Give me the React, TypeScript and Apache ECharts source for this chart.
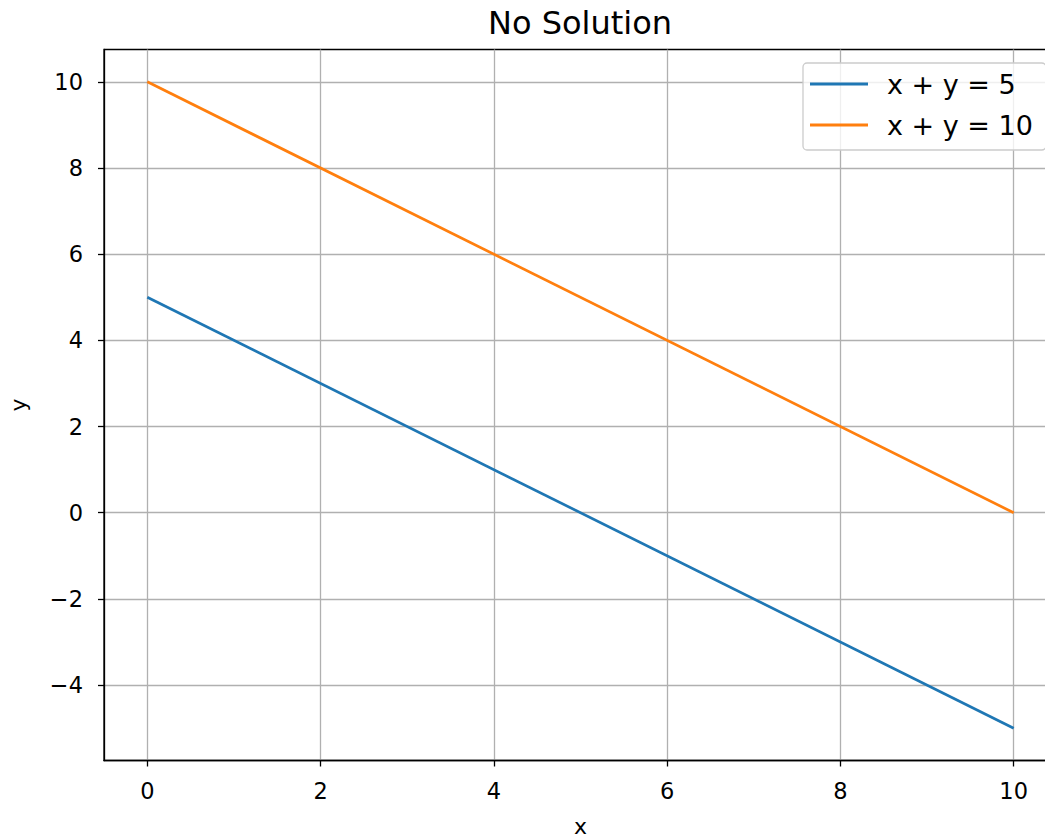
import React, { useEffect, useRef } from "react";
import * as echarts from "echarts";

const xPoints = [0, 10];
const line5 = [5, -5];
const line10 = [10, 0];
const seriesNames = ["x + y = 5", "x + y = 10"];
const xTicks = [0, 2, 4, 6, 8, 10];
const yTicks = [-4, -2, 0, 2, 4, 6, 8, 10];

const FONT = "DejaVu Sans";

export default function App() {
  const ref = useRef<HTMLDivElement>(null);
  useEffect(() => {
    if (!ref.current) return;
    const chart = echarts.init(ref.current, null, { renderer: "svg" });
    const axisCommon = {
      type: "value",
      axisLine: { show: true, onZero: false, lineStyle: { color: "#000", width: 1.3 } },
      axisTick: { show: true, inside: false, length: 6, lineStyle: { color: "#000", width: 1.3 } },
      splitLine: { show: true, lineStyle: { color: "#b0b0b0", width: 1.3 } },
      nameTextStyle: { fontFamily: FONT, fontSize: 22, color: "#000", lineHeight: 22 },
    };
    chart.setOption({
      animation: false,
      backgroundColor: "#fff",
      title: {
        text: "No Solution",
        left: 575,
        textAlign: "center",
        top: 2,
        textStyle: { fontFamily: FONT, fontSize: 32, fontWeight: "normal", color: "#000" },
      },
      grid: {
        left: 104,
        top: 49.5,
        width: 953,
        height: 711,
        show: true,
        borderColor: "#000",
        borderWidth: 1.3,
        containLabel: false,
        outerBoundsMode: "none",
      },
      legend: {
        orient: "vertical",
        left: 803,
        top: 63,
        padding: [6, 13, 10, 7],
        itemWidth: 58,
        itemHeight: 3,
        itemGap: 11,
        icon: "rect",
        backgroundColor: "rgba(255,255,255,0.8)",
        borderColor: "#cccccc",
        borderWidth: 1.3,
        borderRadius: 4,
        textStyle: { fontFamily: FONT, fontSize: 27, color: "#000", lineHeight: 30, padding: [0, 0, 0, 14] },
        data: seriesNames,
      },
      xAxis: {
        ...axisCommon,
        min: -0.5,
        max: 10.5,
        name: "x",
        nameLocation: "middle",
        nameGap: 55,
        axisTick: { ...axisCommon.axisTick, customValues: xTicks },
        axisLabel: {
          customValues: xTicks,
          fontFamily: FONT,
          fontSize: 22.5,
          color: "#000",
          margin: 19,
        },
      },
      yAxis: {
        ...axisCommon,
        min: -5.75,
        max: 10.75,
        name: "y",
        nameLocation: "middle",
        nameGap: 75,
        nameRotate: 90,
        axisTick: { ...axisCommon.axisTick, customValues: yTicks },
        axisLabel: {
          customValues: yTicks,
          fontFamily: FONT,
          fontSize: 22.5,
          color: "#000",
          margin: 21,
          formatter: (v: number) => (v < 0 ? "\u2212" + Math.abs(v) : String(v)),
        },
      },
      series: [
        {
          name: seriesNames[0],
          type: "line",
          data: xPoints.map((x, i) => [x, line5[i]]),
          symbol: "none",
          lineStyle: { color: "#1f77b4", width: 2.7 },
          itemStyle: { color: "#1f77b4" },
        },
        {
          name: seriesNames[1],
          type: "line",
          data: xPoints.map((x, i) => [x, line10[i]]),
          symbol: "none",
          lineStyle: { color: "#ff7f0e", width: 2.7 },
          itemStyle: { color: "#ff7f0e" },
        },
      ],
    });
    return () => chart.dispose();
  }, []);
  return (
    <div style={{ position: "absolute", left: 0, top: 0, width: 1045, height: 838, overflow: "hidden" }}>
      <div ref={ref} style={{ width: 1045, height: 838 }} />
    </div>
  );
}
